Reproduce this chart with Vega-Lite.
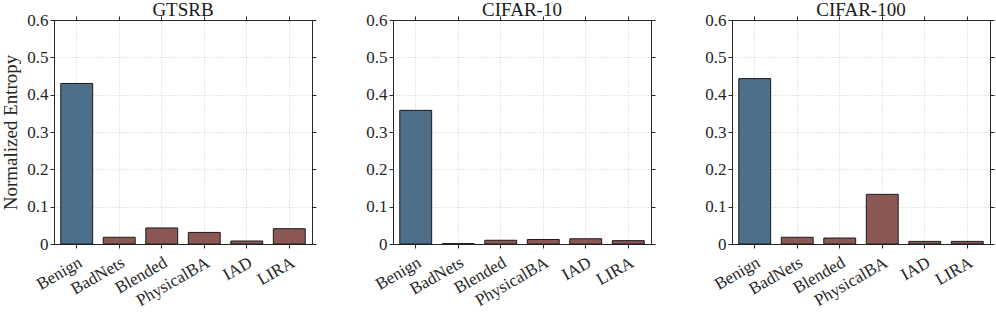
{
  "$schema": "https://vega.github.io/schema/vega-lite/v6.json",
  "padding": {"left": 1, "top": 1, "right": 0, "bottom": 0},
  "background": "white",
  "datasets": {
    "d": [
      {"dataset": "GTSRB", "method": "Benign", "value": 0.430, "kind": "benign"},
      {"dataset": "GTSRB", "method": "BadNets", "value": 0.018, "kind": "attack"},
      {"dataset": "GTSRB", "method": "Blended", "value": 0.043, "kind": "attack"},
      {"dataset": "GTSRB", "method": "PhysicalBA", "value": 0.031, "kind": "attack"},
      {"dataset": "GTSRB", "method": "IAD", "value": 0.008, "kind": "attack"},
      {"dataset": "GTSRB", "method": "LIRA", "value": 0.041, "kind": "attack"},
      {"dataset": "CIFAR-10", "method": "Benign", "value": 0.358, "kind": "benign"},
      {"dataset": "CIFAR-10", "method": "BadNets", "value": 0.001, "kind": "attack"},
      {"dataset": "CIFAR-10", "method": "Blended", "value": 0.010, "kind": "attack"},
      {"dataset": "CIFAR-10", "method": "PhysicalBA", "value": 0.012, "kind": "attack"},
      {"dataset": "CIFAR-10", "method": "IAD", "value": 0.014, "kind": "attack"},
      {"dataset": "CIFAR-10", "method": "LIRA", "value": 0.009, "kind": "attack"},
      {"dataset": "CIFAR-100", "method": "Benign", "value": 0.443, "kind": "benign"},
      {"dataset": "CIFAR-100", "method": "BadNets", "value": 0.018, "kind": "attack"},
      {"dataset": "CIFAR-100", "method": "Blended", "value": 0.016, "kind": "attack"},
      {"dataset": "CIFAR-100", "method": "PhysicalBA", "value": 0.133, "kind": "attack"},
      {"dataset": "CIFAR-100", "method": "IAD", "value": 0.007, "kind": "attack"},
      {"dataset": "CIFAR-100", "method": "LIRA", "value": 0.007, "kind": "attack"}
    ]
  },
  "data": {"name": "d"},
  "bounds": "flush",
  "spacing": 75,
  "config": {
    "font": "Liberation Serif",
    "view": {"stroke": null},
    "axis": {
      "labelFont": "Liberation Serif", "titleFont": "Liberation Serif",
      "labelFontSize": 17, "titleFontSize": 19, "labelColor": "#262626", "titleColor": "#262626",
      "titleFontWeight": "normal", "domainColor": "#262626", "tickColor": "#262626",
      "domainWidth": 1, "tickWidth": 1, "tickSize": 4
    },
    "title": {"font": "Liberation Serif", "fontSize": 19, "fontWeight": "normal", "color": "#1a1a1a"}
  },
  "hconcat": [
    {
      "width": 264, "height": 224,
      "title": {"text": "GTSRB", "frame": "group", "offset": -9},
      "transform": [{"filter": "datum.dataset === 'GTSRB'"}],
      "layer": [
        {
          "mark": {"type": "bar", "stroke": "#1a1a1a", "strokeWidth": 1},
          "encoding": {
            "x": {"field": "method", "type": "nominal", "sort": ["Benign", "BadNets", "Blended", "PhysicalBA", "IAD", "LIRA"], "scale": {"paddingInner": 0.25, "paddingOuter": 0.23},
              "axis": {"orient": "bottom", "title": null, "labelAngle": -30, "labelPadding": 6, "grid": true, "gridDash": [1, 2], "gridColor": "#cfcfcf"}},
            "y": {"field": "value", "type": "quantitative", "scale": {"domain": [0, 0.6], "nice": false},
              "axis": {"orient": "left", "title": "Normalized Entropy", "offset": -3, "values": [0, 0.1, 0.2, 0.3, 0.4, 0.5, 0.6], "labelExpr": "datum.value === 0 ? '0' : format(datum.value, '.1f')", "labelPadding": 2, "titlePadding": 6, "grid": true, "gridDash": [1, 2], "gridColor": "#cfcfcf"}},
            "color": {"field": "kind", "type": "nominal", "scale": {"domain": ["benign", "attack"], "range": ["#4d6f8a", "#8b5856"]}, "legend": null}
          }
        },
        {
          "mark": {"type": "bar", "opacity": 0},
          "encoding": {
            "x": {"field": "method", "type": "nominal", "sort": ["Benign", "BadNets", "Blended", "PhysicalBA", "IAD", "LIRA"],
              "axis": {"orient": "top", "title": null, "labels": false, "grid": false}},
            "y": {"field": "value", "type": "quantitative",
              "axis": {"orient": "right", "title": null, "labels": false, "grid": false, "offset": -3, "values": [0, 0.1, 0.2, 0.3, 0.4, 0.5, 0.6]}}
          }
        }
      ],
      "resolve": {"axis": {"x": "independent", "y": "independent"}}
    },
    {
      "width": 264, "height": 224,
      "title": {"text": "CIFAR-10", "frame": "group", "offset": -9},
      "transform": [{"filter": "datum.dataset === 'CIFAR-10'"}],
      "layer": [
        {
          "mark": {"type": "bar", "stroke": "#1a1a1a", "strokeWidth": 1},
          "encoding": {
            "x": {"field": "method", "type": "nominal", "sort": ["Benign", "BadNets", "Blended", "PhysicalBA", "IAD", "LIRA"], "scale": {"paddingInner": 0.25, "paddingOuter": 0.23},
              "axis": {"orient": "bottom", "title": null, "labelAngle": -30, "labelPadding": 6, "grid": true, "gridDash": [1, 2], "gridColor": "#cfcfcf"}},
            "y": {"field": "value", "type": "quantitative", "scale": {"domain": [0, 0.6], "nice": false},
              "axis": {"orient": "left", "title": null, "offset": -3, "values": [0, 0.1, 0.2, 0.3, 0.4, 0.5, 0.6], "labelExpr": "datum.value === 0 ? '0' : format(datum.value, '.1f')", "labelPadding": 2, "grid": true, "gridDash": [1, 2], "gridColor": "#cfcfcf"}},
            "color": {"field": "kind", "type": "nominal", "scale": {"domain": ["benign", "attack"], "range": ["#4d6f8a", "#8b5856"]}, "legend": null}
          }
        },
        {
          "mark": {"type": "bar", "opacity": 0},
          "encoding": {
            "x": {"field": "method", "type": "nominal", "sort": ["Benign", "BadNets", "Blended", "PhysicalBA", "IAD", "LIRA"],
              "axis": {"orient": "top", "title": null, "labels": false, "grid": false}},
            "y": {"field": "value", "type": "quantitative",
              "axis": {"orient": "right", "title": null, "labels": false, "grid": false, "offset": -3, "values": [0, 0.1, 0.2, 0.3, 0.4, 0.5, 0.6]}}
          }
        }
      ],
      "resolve": {"axis": {"x": "independent", "y": "independent"}}
    },
    {
      "width": 264, "height": 224,
      "title": {"text": "CIFAR-100", "frame": "group", "offset": -9},
      "transform": [{"filter": "datum.dataset === 'CIFAR-100'"}],
      "layer": [
        {
          "mark": {"type": "bar", "stroke": "#1a1a1a", "strokeWidth": 1},
          "encoding": {
            "x": {"field": "method", "type": "nominal", "sort": ["Benign", "BadNets", "Blended", "PhysicalBA", "IAD", "LIRA"], "scale": {"paddingInner": 0.25, "paddingOuter": 0.23},
              "axis": {"orient": "bottom", "title": null, "labelAngle": -30, "labelPadding": 6, "grid": true, "gridDash": [1, 2], "gridColor": "#cfcfcf"}},
            "y": {"field": "value", "type": "quantitative", "scale": {"domain": [0, 0.6], "nice": false},
              "axis": {"orient": "left", "title": null, "offset": -3, "values": [0, 0.1, 0.2, 0.3, 0.4, 0.5, 0.6], "labelExpr": "datum.value === 0 ? '0' : format(datum.value, '.1f')", "labelPadding": 2, "grid": true, "gridDash": [1, 2], "gridColor": "#cfcfcf"}},
            "color": {"field": "kind", "type": "nominal", "scale": {"domain": ["benign", "attack"], "range": ["#4d6f8a", "#8b5856"]}, "legend": null}
          }
        },
        {
          "mark": {"type": "bar", "opacity": 0},
          "encoding": {
            "x": {"field": "method", "type": "nominal", "sort": ["Benign", "BadNets", "Blended", "PhysicalBA", "IAD", "LIRA"],
              "axis": {"orient": "top", "title": null, "labels": false, "grid": false}},
            "y": {"field": "value", "type": "quantitative",
              "axis": {"orient": "right", "title": null, "labels": false, "grid": false, "offset": -3, "values": [0, 0.1, 0.2, 0.3, 0.4, 0.5, 0.6]}}
          }
        }
      ],
      "resolve": {"axis": {"x": "independent", "y": "independent"}}
    }
  ]
}
